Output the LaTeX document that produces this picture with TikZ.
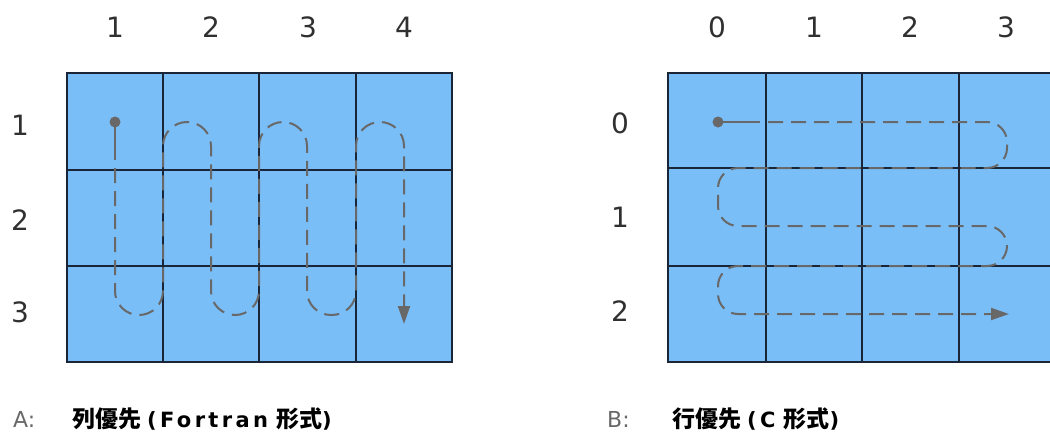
\documentclass[tikz,border=0pt]{standalone}
\usepackage{fontspec}
\usetikzlibrary{arrows.meta}
\setmainfont{DejaVu Sans}
\newfontfamily\cjk{Noto Sans CJK TC}
\newfontfamily\spaced[LetterSpace=16]{DejaVu Sans}

\definecolor{cellblue}{RGB}{122,190,248}
\definecolor{gridline}{RGB}{26,38,56}
\definecolor{trailgray}{RGB}{104,104,104}
\definecolor{idxgray}{RGB}{48,48,48}

\begin{document}
\begin{tikzpicture}[x=1pt,y=-1pt,
    idx/.style={text=idxgray, font=\fontsize{28}{32}\selectfont, inner sep=0pt},
    idxtag/.style={text=trailgray, font=\fontsize{22}{26}\selectfont, inner sep=0pt, anchor=west},
    capnode/.style={text=black, inner sep=0pt, anchor=west},
    gridrule/.style={gridline, line width=2pt},
    trail/.style={trailgray, line width=2pt},
    traildash/.style={trail, dash pattern=on 15pt off 8pt, dash phase=15pt},
    trailstart/.style={circle, fill=trailgray, inner sep=0pt, minimum size=11pt}]
\useasboundingbox (0,0) rectangle (1050,437);
\clip (0,0) rectangle (1050,437);

%% A: column major
\fill[cellblue] (67,73) rectangle (452,362);
\draw[gridrule] (67,73) rectangle (452,362);
\draw[gridrule] (163,73)--(163,362) (259,73)--(259,362) (356,73)--(356,362);
\draw[gridrule] (67,170)--(452,170) (67,266)--(452,266);

           \node[idx] at (115,27) (colA1) {1};
           \node[idx] at (211,27) (colA2) {2};
           \node[idx] at (308,27) (colA3) {3};
           \node[idx] at (404,27) (colA4) {4};
           \node[idx] at (20,125) (rowA1) {1};
           \node[idx] at (20,220) (rowA2) {2};
           \node[idx] at (20,312) (rowA3) {3};

\node[trailstart] at (115,122) (startA) {};
\coordinate (endA) at (404,324);
\draw[trail] (startA.center) -- (115,160);
\draw[traildash, rounded corners=24pt, -{Triangle[length=18pt,width=12pt]}]
   (115,160) -- (115,315) -- (163,315) -- (163,122) -- (211,122)
   -- (211,315) -- (259,315) -- (259,122) -- (307,122)
   -- (307,315) -- (356,315) -- (356,122) -- (404,122) -- (endA);
%
\node[idxtag] at (13,419) (tagA) {A:};
\node[capnode] at (72,419) (capA) {{\cjk\bfseries\fontsize{23}{26}\selectfont 列優先}%
   \hspace{6pt}{\spaced\bfseries\fontsize{21}{24}\selectfont (Fortran}\hspace{8pt}%
   {\cjk\bfseries\fontsize{23}{26}\selectfont 形式}{\spaced\bfseries\fontsize{21}{24}\selectfont )}};

%% B: row major
\fill[cellblue] (668,73) rectangle (1058,362);
\draw[gridrule] (668,73) rectangle (1058,362);
\draw[gridrule] (766,73)--(766,362) (862,73)--(862,362) (959,73)--(959,362);
\draw[gridrule] (668,168)--(1058,168) (668,266)--(1058,266);

           \node[idx] at (717,27) (colB0) {0};
           \node[idx] at (814,27) (colB1) {1};
           \node[idx] at (910,27) (colB2) {2};
           \node[idx] at (1006,27) (colB3) {3};
           \node[idx] at (620,123) (rowB0) {0};
           \node[idx] at (620,217) (rowB1) {1};
           \node[idx] at (620,311) (rowB2) {2};

\node[trailstart] at (718,122) (startB) {};
\coordinate (endB) at (1009,314);
\draw[trail] (startB.center) -- (760,122);
\draw[traildash, rounded corners=20pt, -{Triangle[length=18pt,width=12pt]}]
   (760,122) -- (1007,122) -- (1007,168) -- (718,168) -- (718,226)
   -- (1007,226) -- (1007,266) -- (718,266) -- (718,314) -- (endB);
%
\node[idxtag] at (607,419) (tagB) {B:};
\node[capnode] at (672,419) (capB) {{\cjk\bfseries\fontsize{23}{26}\selectfont 行優先}%
   \hspace{6pt}{\spaced\bfseries\fontsize{21}{24}\selectfont (C}\hspace{8pt}%
   {\cjk\bfseries\fontsize{23}{26}\selectfont 形式}{\spaced\bfseries\fontsize{21}{24}\selectfont )}};
\end{tikzpicture}
\end{document}
